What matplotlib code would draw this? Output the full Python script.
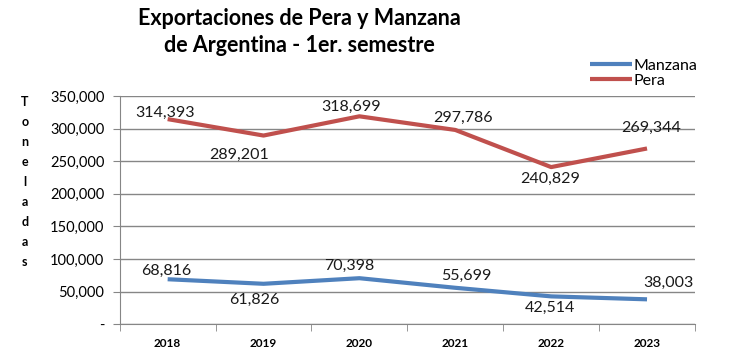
import matplotlib.pyplot as plt
import numpy as np

# datos
anios = ['2018', '2019', '2020', '2021', '2022', '2023']
manzana = [68816, 61826, 70398, 55699, 42514, 38003]
pera = [314393, 289201, 318699, 297786, 240829, 269344]

# desplazamiento de etiquetas en pixeles (dx, dy)
off_pera = [(-3, 6), (-24, -19), (-8, 9), (8, 12), (-1, -12), (4, 21)]
off_manz = [(-1, 8), (-9, -16), (-10, 12), (11, 12), (-1, -12), (21, 16)]

azul = '#4F81BD'
rojo = '#C0504D'
gris = '#868686'

plt.rcParams['font.family'] = ['Lato', 'DejaVu Sans']

fig = plt.figure(figsize=(7.3, 3.5), dpi=100)
ax = fig.add_axes([0.164, 0.074, 0.788, 0.652])

x = np.arange(len(anios))
ax.plot(x, manzana, color=azul, lw=3, label='Manzana', solid_capstyle='butt')
ax.plot(x, pera, color=rojo, lw=3, label='Pera', solid_capstyle='butt')

for i in range(len(x)):
    dx, dy = off_pera[i]
    ax.annotate(f'{pera[i]:,}', (x[i], pera[i]), xytext=(dx * 0.72, dy * 0.72),
                textcoords='offset points', ha='center', va='center',
                fontsize=11.5, color='#1a1a1a')
    dx, dy = off_manz[i]
    ax.annotate(f'{manzana[i]:,}', (x[i], manzana[i]), xytext=(dx * 0.72, dy * 0.72),
                textcoords='offset points', ha='center', va='center',
                fontsize=11.5, color='#1a1a1a')

ax.set_ylim(0, 350000)
ax.set_xlim(-0.5, 5.5)
yt = np.arange(0, 350001, 50000)
ax.set_yticks(yt)
ax.set_yticklabels(['-'] + [f'{v:,}' for v in yt[1:]], fontsize=10.5)
ax.yaxis.grid(True, color=gris, lw=1)
ax.set_axisbelow(True)
ax.tick_params(axis='y', length=5, color=gris, pad=6)

ax.set_xticks(x)
ax.set_xticklabels(anios, fontsize=8.5, fontweight='bold')
ax.set_xticks(np.arange(-0.5, 6, 1), minor=True)
ax.tick_params(axis='x', which='major', length=0, pad=10)
ax.tick_params(axis='x', which='minor', length=5, color=gris)

for s in ['top', 'right']:
    ax.spines[s].set_visible(False)
for s in ['left', 'bottom']:
    ax.spines[s].set_color(gris)

fig.text(0.41, 0.948, 'Exportaciones de Pera y Manzana', ha='center', va='center',
         fontsize=15.5, fontweight='bold')
fig.text(0.41, 0.87, 'de Argentina - 1er. semestre', ha='center', va='center',
         fontsize=15.5, fontweight='bold')

fig.text(0.034, 0.48, '\n'.join('Toneladas'), ha='center', va='center',
         fontsize=9, fontweight='bold', linespacing=1.8)

fig.legend(loc='upper left', bbox_to_anchor=(0.8, 0.85), frameon=False, fontsize=11.5,
           handlelength=2.6, handletextpad=0.1, labelspacing=0.05, borderaxespad=0)

fig.savefig('out.png', dpi=100)
